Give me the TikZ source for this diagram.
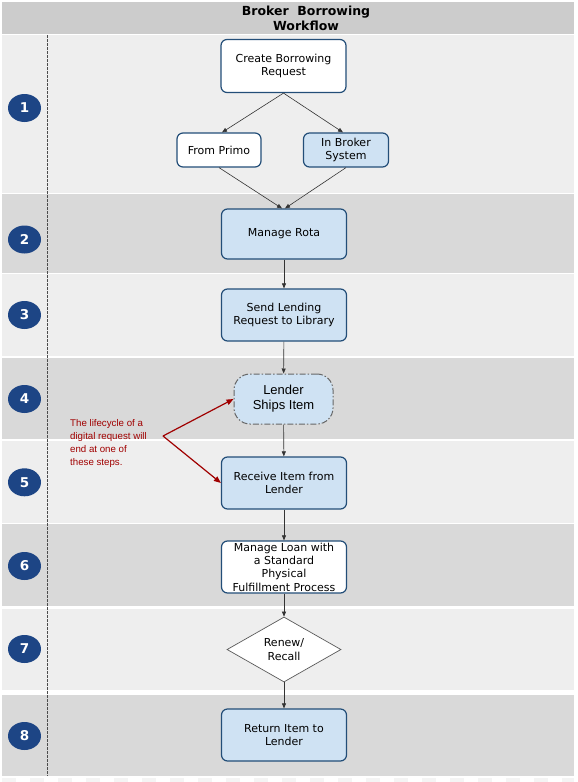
\documentclass[tikz,border=0pt]{standalone}
\usepackage{fontspec}
\setmainfont{DejaVu Sans}
\newfontfamily\arialf{Liberation Sans}
\usetikzlibrary{shapes.geometric,arrows.meta}
\definecolor{hdr}{HTML}{CCCCCC}
\definecolor{laneL}{HTML}{EEEEEE}
\definecolor{laneD}{HTML}{D9D9D9}
\definecolor{numc}{HTML}{1D4585}
\definecolor{bordc}{HTML}{234E78}
\definecolor{lblue}{HTML}{CFE2F3}
\definecolor{notec}{HTML}{A00000}
\definecolor{linec}{HTML}{333333}
\definecolor{stripc}{HTML}{F4F4F4}
\tikzset{
  boxnode/.style={draw=bordc, line width=1.2pt, rounded corners=6pt, fill=white,
    align=center, inner sep=0pt, minimum width=125pt, minimum height=52pt,
    font=\fontsize{11}{13.3}\selectfont},
  bluebox/.style={boxnode, fill=lblue},
  numnode/.style={ellipse, fill=numc, minimum width=33pt, minimum height=28pt,
    inner sep=0pt, text=white, font=\fontsize{13.5}{14}\selectfont\bfseries},
  flow/.style={-{Triangle[length=5pt,width=4pt]}, draw=linec, line width=0.6pt},
  redflow/.style={-{Triangle[length=7pt,width=5.5pt]}, draw=notec, line width=1.2pt},
}
\begin{document}
\begin{tikzpicture}[x=1pt,y=-1pt]
\useasboundingbox (0,0) rectangle (578,782);
\fill[white] (0,0) rectangle (578,782);
% header and lanes
\fill[hdr] (2,2) rectangle (574,33.5);
\fill[laneL] (2,35) rectangle (574,192.7);
\fill[laneD] (2,194.3) rectangle (574,272.7);
\fill[laneL] (2,274.3) rectangle (574,356);
\fill[laneD] (2,357.7) rectangle (574,439.3);
\fill[laneL] (2,441) rectangle (574,522.7);
\fill[laneD] (2,524.3) rectangle (574,606);
\fill[laneL] (2,608.7) rectangle (574,690);
\fill[laneD] (2,694.7) rectangle (574,776);
\draw[stripc, line width=4pt, dash pattern=on 14pt off 14pt] (2,780) -- (574,780);
\draw[black!70, line width=0.7pt, dash pattern=on 2.5pt off 1.5pt] (47,35) -- (47,776);
% title
\node[font=\fontsize{12.5}{15}\selectfont\bfseries, align=center, inner sep=0pt] (title) at (306,18) {Broker\ \ Borrowing\\Workflow};
% numbers
\node[numnode] (n1) at (24.5,108) {1};
\node[numnode] (n2) at (24.5,239.5) {2};
\node[numnode] (n3) at (24.5,315) {3};
\node[numnode] (n4) at (24.5,399) {4};
\node[numnode] (n5) at (24.5,482.3) {5};
\node[numnode] (n6) at (24.5,566) {6};
\node[numnode] (n7) at (24.5,649) {7};
\node[numnode] (n8) at (24.5,736) {8};
% process nodes
\node[boxnode, minimum height=53pt] (create) at (283.5,66) {Create Borrowing\\Request};
\node[boxnode, minimum width=84pt, minimum height=34pt] (primo) at (219,150) {From Primo};
\node[bluebox, minimum width=85pt, minimum height=34pt] (broker) at (346,150) {In Broker\\System};
\node[bluebox, minimum height=50pt] (rota) at (284,234) {Manage Rota};
\node[bluebox] (send) at (284,315) {Send Lending\\Request to Library};
\node[draw=black!60, line width=1pt, dash pattern=on 6pt off 2pt on 1.5pt off 2pt,
  rounded corners=16pt, fill=lblue, minimum width=99pt, minimum height=50pt,
  inner sep=0pt, align=center, font=\arialf\fontsize{13}{15}\selectfont] (ships) at (283.5,399) {Lender\\Ships Item};
\node[bluebox] (receive) at (284,483) {Receive Item from\\Lender};
\node[boxnode] (loan) at (284,567) {Manage Loan with\\a Standard\\Physical\\Fulfillment Process};
\node[diamond, draw=black!65, line width=0.7pt, fill=white, minimum width=114pt,
  minimum height=65pt, inner sep=0pt, align=center,
  font=\fontsize{11}{13.3}\selectfont] (renew) at (284,649.5) {Renew/\\Recall};
\node[bluebox] (return) at (284,735) {Return Item to\\Lender};
% annotation
\node[anchor=north west, inner sep=0pt, align=left, text=notec,
  font=\arialf\fontsize{9.7}{13}\selectfont] (note) at (70,419.5)
  {The lifecycle of a\\digital request will\\end at one of\\these steps.};
\coordinate (join) at (163,436);
% connectors
\draw[flow] (create.south) -- ([xshift=3pt]primo.north);
\draw[flow] (create.south) -- ([xshift=-3pt]broker.north);
\draw[flow] (primo.south) -- ([xshift=-2pt]rota.north);
\draw[flow] (broker.south) -- ([xshift=1pt]rota.north);
\draw[flow] (rota) -- (send);
\draw[flow] (send) -- (ships);
\draw[flow] (ships) -- (receive);
\draw[flow] (receive) -- (loan);
\draw[flow] (loan) -- (renew);
\draw[flow] (renew) -- (return);
\draw[redflow] (join) -- (ships.west);
\draw[redflow] (join) -- (receive.west);
\end{tikzpicture}
\end{document}
